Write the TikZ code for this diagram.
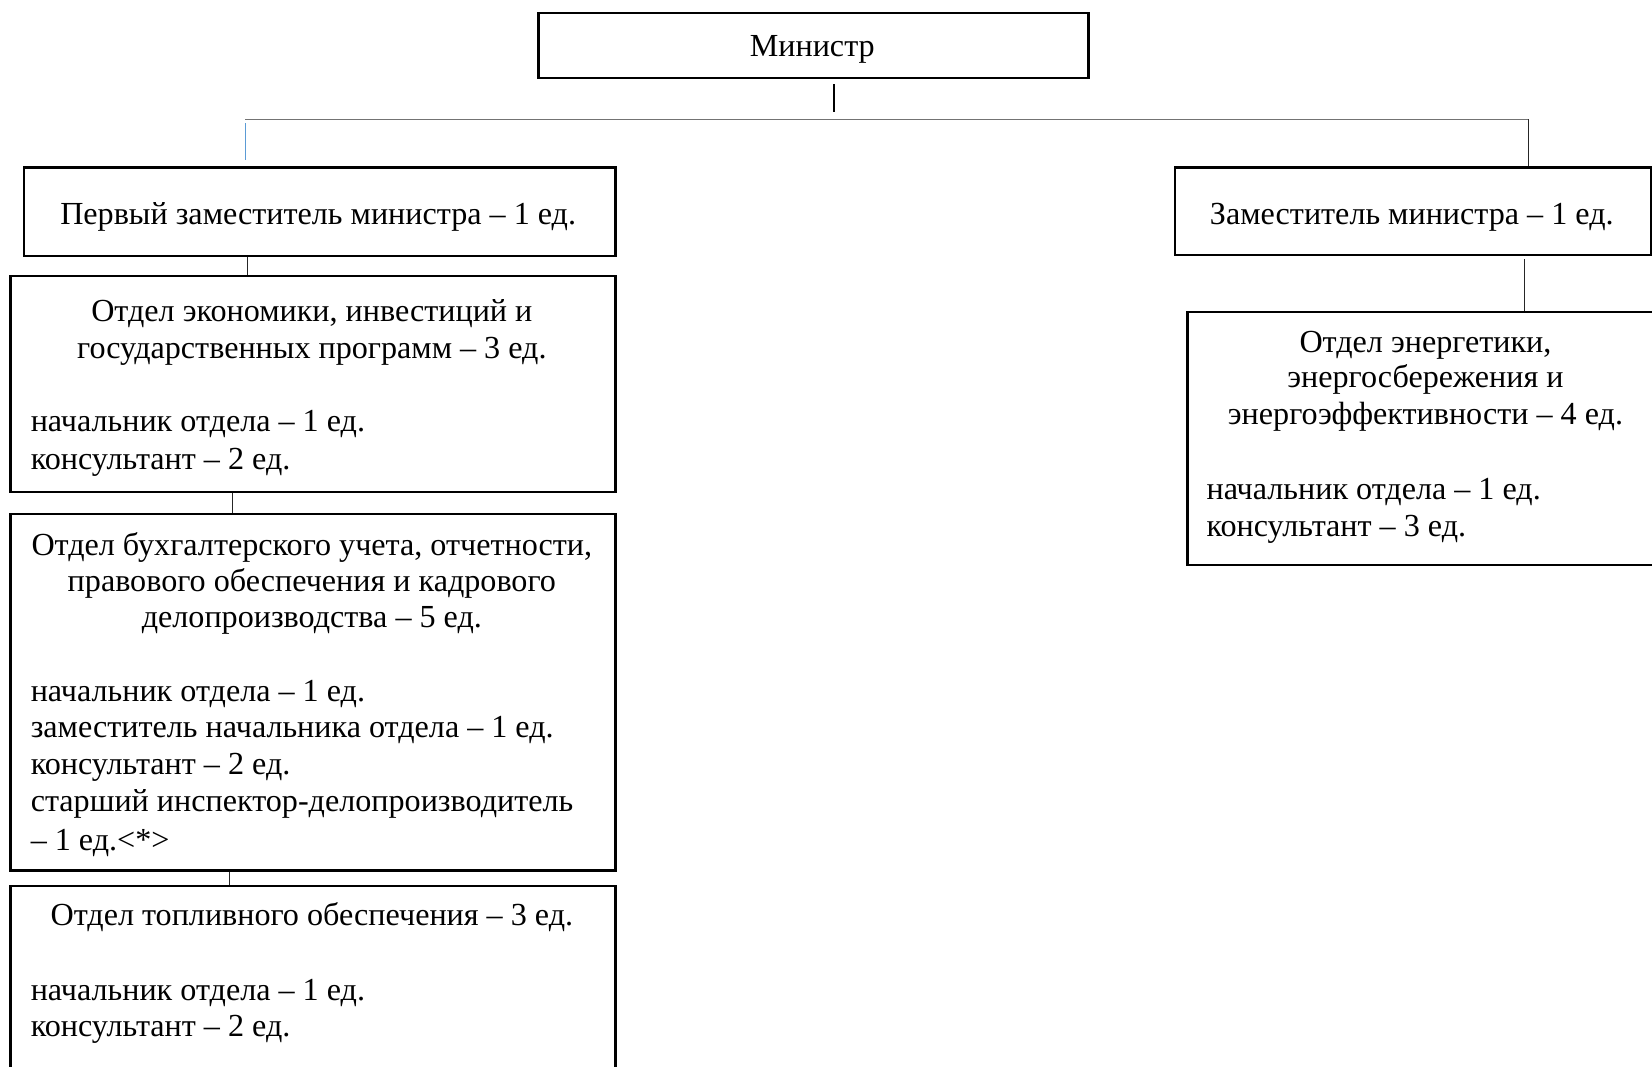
\documentclass[tikz,border=0pt]{standalone}
\usepackage{fontspec}
\setmainfont{Liberation Serif}
\begin{document}
\begin{tikzpicture}[x=1pt,y=1pt,
  box/.style={draw, line width=2.2pt, anchor=north west, inner sep=0pt},
  txt/.style={inner sep=0pt, anchor=base, font=\fontsize{30.5}{35}\selectfont},
  ltxt/.style={txt, anchor=base west},
  conn/.style={line width=1pt, draw=black!85},
  bconn/.style={line width=1pt, draw=black!55},
  blueconn/.style={line width=1pt, draw={rgb,255:red,91;green,155;blue,213}}]
\clip (0,0) rectangle (1568,-1012);
% boxes
\node[box, minimum width=522, minimum height=62] (min) at (510,-11) {};
\node[box, minimum width=561, minimum height=84] (fd) at (22,-158) {};
\node[box, minimum width=452, minimum height=83] (zm) at (1114,-158) {};
\node[box, minimum width=574, minimum height=205] (o1) at (9,-261) {};
\node[box, minimum width=574, minimum height=338] (o2) at (9,-487) {};
\node[box, minimum width=574, minimum height=220] (o3) at (9,-840) {};
\node[box, minimum width=470, minimum height=240] (o4) at (1126,-295) {};
% texts
\node[txt] (tmin) at (771,-54) {Министр};
\node[txt] (tfd) at (302,-213) {Первый заместитель министра – 1 ед.};
\node[txt] (tzm) at (1340,-213) {Заместитель министра – 1 ед.};
\node[txt] (o1a) at (296,-305) {Отдел экономики, инвестиций и};
\node[txt] (o1b) at (296,-340) {государственных программ – 3 ед.};
\node[ltxt] (o1c) at (29,-410) {начальник отдела – 1 ед.};
\node[ltxt] (o1d) at (29,-446) {консультант – 2 ед.};
\node[txt] (o2a) at (296,-527) {Отдел бухгалтерского учета, отчетности,};
\node[txt] (o2b) at (296,-561) {правового обеспечения и кадрового};
\node[txt] (o2c) at (296,-596) {делопроизводства – 5 ед.};
\node[ltxt] (o2d) at (29,-666) {начальник отдела – 1 ед.};
\node[ltxt] (o2e) at (29,-700) {заместитель начальника отдела – 1 ед.};
\node[ltxt] (o2f) at (29,-735) {консультант – 2 ед.};
\node[ltxt] (o2g) at (29,-770) {старший инспектор-делопроизводитель};
\node[ltxt] (o2h) at (29,-807) {– 1 ед.<*>};
\node[txt] (o3a) at (296,-878) {Отдел топливного обеспечения – 3 ед.};
\node[ltxt] (o3b) at (29,-950) {начальник отдела – 1 ед.};
\node[ltxt] (o3c) at (29,-984) {консультант – 2 ед.};
\node[txt] (o4a) at (1353,-335) {Отдел энергетики,};
\node[txt] (o4b) at (1353,-368) {энергосбережения и};
\node[txt] (o4c) at (1353,-403) {энергоэффективности – 4 ед.};
\node[ltxt] (o4d) at (1145,-474) {начальник отдела – 1 ед.};
\node[ltxt] (o4e) at (1145,-509) {консультант – 3 ед.};
% connector points
\coordinate (m1) at (792,-80);
\coordinate (m2) at (792,-106);
\coordinate (hl) at (233,-113);
\coordinate (hr) at (1451,-113);
\coordinate (lb1) at (233,-117);
\coordinate (lb2) at (233,-152);
\coordinate (x1) at (235,0);
\coordinate (x2) at (221,0);
\coordinate (x3) at (218,0);
\coordinate (x4) at (1447,0);
\coordinate (zb) at (1447,-246);
% connectors
\draw[line width=1.8pt] (m1) -- (m2);
\draw[bconn] (hl) -- (hr);
\draw[conn] (hr) -- (zm.north -| hr);
\draw[blueconn] (lb1) -- (lb2);
\draw[conn] (fd.south -| x1) -- (o1.north -| x1);
\draw[conn] (o1.south -| x2) -- (o2.north -| x2);
\draw[conn] (o2.south -| x3) -- (o3.north -| x3);
\draw[conn] (zb) -- (o4.north -| x4);
\end{tikzpicture}
\end{document}
